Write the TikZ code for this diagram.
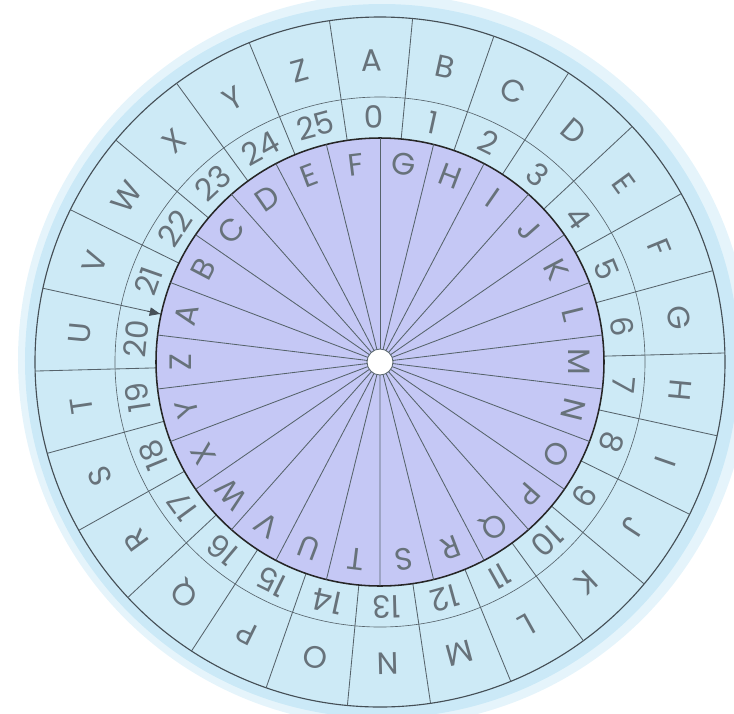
\documentclass[tikz,border=0pt]{standalone}
\usepackage{fontspec}
\setmainfont{Poppins}
\usetikzlibrary{arrows.meta}
\definecolor{haloblue}{HTML}{CBE9F7}
\definecolor{ringblue}{HTML}{CDEAF6}
\definecolor{discpurple}{HTML}{C5C8F5}
\definecolor{inkgray}{HTML}{56636B}

\begin{document}
\begin{tikzpicture}[x=0.025cm,y=0.025cm,
  every node/.style={font=\fontsize{22}{24}\selectfont,text=inkgray!90,inner sep=0pt},
  spoke/.style={draw=inkgray,line width=0.6pt},
  rim/.style={draw=inkgray!80!black,line width=0.8pt}]
\useasboundingbox (-380,-351) rectangle (354,362);
% soft halo behind the wheel
\fill[haloblue,opacity=0.5] (4,2) circle (366);
\fill[haloblue] (2,1) circle (357);
% outer wheel: letters and numbers
\filldraw[fill=ringblue,rim] (0,0) circle (345);
\draw[inkgray,line width=0.45pt] (0,0) circle (265);
\foreach \L [count=\i from 0] in {A,B,C,D,E,F,G,H,I,J,K,L,M,N,O,P,Q,R,S,T,U,V,W,X,Y,Z} {
  \draw[spoke] (98.423-\i*13.846:224) -- (98.423-\i*13.846:345);
  \node[rotate={1.5-\i*13.846}] (out\L) at (91.5-\i*13.846:302) {\L};
  \node[rotate={1.5-\i*13.846}] (num\i) at (91.5-\i*13.846:245) {\i};
}
% inner disc
\filldraw[fill=discpurple,draw=black!85,line width=1.1pt] (0,0) circle (224);
\foreach \L [count=\i from 0] in {G,H,I,J,K,L,M,N,O,P,Q,R,S,T,U,V,W,X,Y,Z,A,B,C,D,E,F} {
  \draw[spoke] (90-\i*13.846:13) -- (90-\i*13.846:224);
  \node[rotate={-6.923-\i*13.846}] (in\L) at (83.077-\i*13.846:199) {\L};
}
% pointer on the 20/21 line
\coordinate (tipA) at (-192.35:225);
\coordinate (tipB) at (-192.35:238);
\draw[spoke,draw=inkgray!80!black,{Triangle[length=7.5pt,width=6pt]}-] (tipA) -- (tipB);
% centre hole
\filldraw[fill=white,draw=inkgray,line width=0.6pt] (0,0) circle (13);
\end{tikzpicture}
\end{document}
